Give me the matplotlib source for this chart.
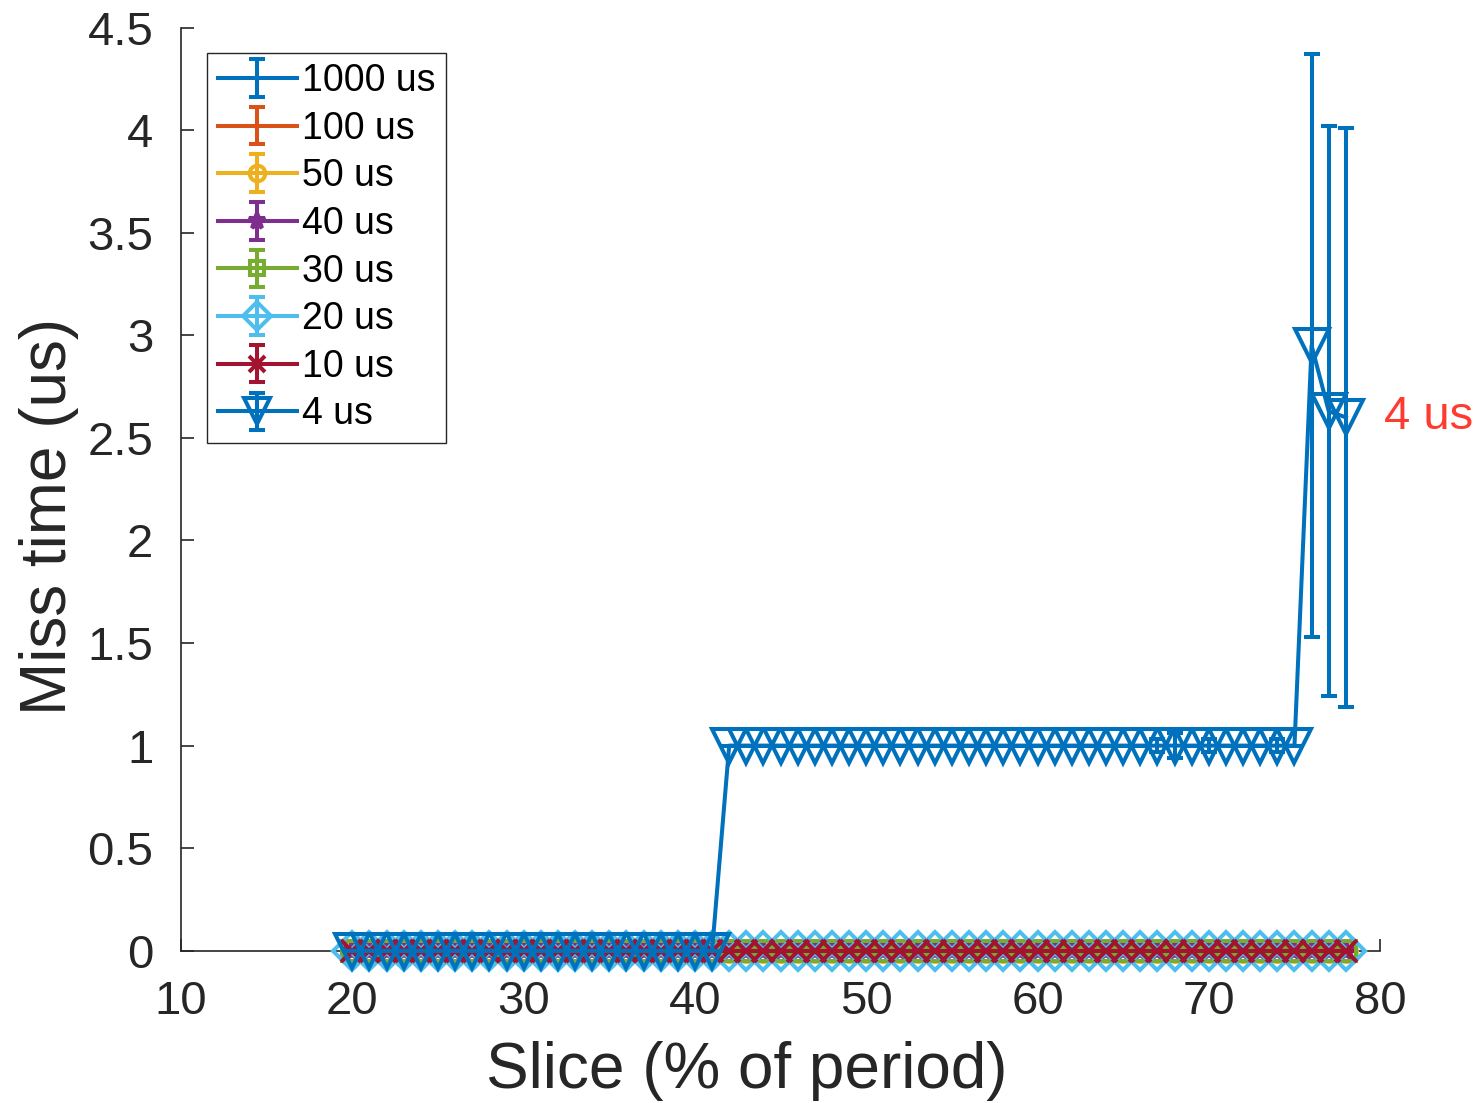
import matplotlib.pyplot as plt
import numpy as np

plt.rcParams['font.family'] = ['Liberation Sans', 'DejaVu Sans']

### data ###
slices = list(range(20, 79))   # 20 .. 78 (% of period)

labels = ['1000 us', '100 us', '50 us', '40 us', '30 us', '20 us', '10 us', '4 us']

# every run but the 4 us one stays at zero miss time
zero_miss = [0.0] * 59
zero_err = [0.0] * 59

# 4 us: 20..41 -> 0, 42..75 -> 1, then the last three slices
miss_4us = [0.0] * 22 + [1.0] * 34 + [2.95, 2.63, 2.60]
err_4us = [0.0] * 22 + \
    [0.0, 0.0, 0.0, 0.0, 0.0, 0.0, 0.0, 0.0, 0.0, 0.0, 0.0, 0.0, 0.0,
     0.0, 0.0, 0.0, 0.0, 0.0, 0.0, 0.0, 0.0, 0.0, 0.0, 0.0, 0.0,
     0.03, 0.06, 0.0, 0.03, 0.0, 0.0, 0.0, 0.03, 0.0] + [1.42, 1.39, 1.41]

### style ###
colors = ['#0072BD', '#D95319', '#EDB120', '#7E2F8E', '#77AC30', '#4DBEEE', '#A2142F', '#0072BD']
markers = ['none', 'none', 'o', '*', 's', 'D', 'x', 'v']
msizes = [10, 10, 15, 16, 14, 19, 16, 25]

fig = plt.figure(figsize=(14.84, 11.03), dpi=100)
ax = fig.add_axes([0.122, 0.138, 0.808, 0.837])

for i in range(8):
    if i == 7:
        yv, ev = miss_4us, err_4us
    else:
        yv, ev = zero_miss, zero_err
    ax.errorbar(slices, yv, yerr=ev, color=colors[i], marker=markers[i],
                ms=msizes[i], mfc='none', mew=2.9, lw=2.9, elinewidth=2.9,
                capsize=5.5, capthick=2.9, label=labels[i], clip_on=False, zorder=3 + i)

ax.text(80.2, 2.6, '4 us', color='#FF3B30', fontsize=34, va='center', ha='left', clip_on=False)

ax.set_xlim(10, 80)
ax.set_ylim(0, 4.5)
ax.set_xticks([10, 20, 30, 40, 50, 60, 70, 80])
ax.set_yticks([0, 0.5, 1, 1.5, 2, 2.5, 3, 3.5, 4, 4.5])
ax.set_yticklabels(['0', '0.5', '1', '1.5', '2', '2.5', '3', '3.5', '4', '4.5'])

for s in ['top', 'right']:
    ax.spines[s].set_visible(False)
for s in ['left', 'bottom']:
    ax.spines[s].set_color('#262626')
    ax.spines[s].set_linewidth(1.2)

ax.tick_params(direction='in', length=9, width=1.2, colors='#262626', labelsize=34)
ax.tick_params(axis='y', pad=20)
ax.tick_params(axis='x', pad=21)

ax.set_xlabel('Slice (% of period)', fontsize=46, color='#262626')
ax.set_ylabel('Miss time (us)', fontsize=46, color='#262626')
ax.xaxis.set_label_coords(0.472, -0.098)
ax.yaxis.set_label_coords(-0.085, 0.47)

leg = ax.legend(loc='upper left', bbox_to_anchor=(0.022, 0.973), borderaxespad=0,
                fontsize=27, markerscale=0.75, handlelength=2.1, handletextpad=0.15,
                labelspacing=0.31, borderpad=0.28, fancybox=False, framealpha=1)
leg.get_frame().set_edgecolor('#262626')
leg.get_frame().set_linewidth(1.0)

fig.savefig('out.png', dpi=100)
